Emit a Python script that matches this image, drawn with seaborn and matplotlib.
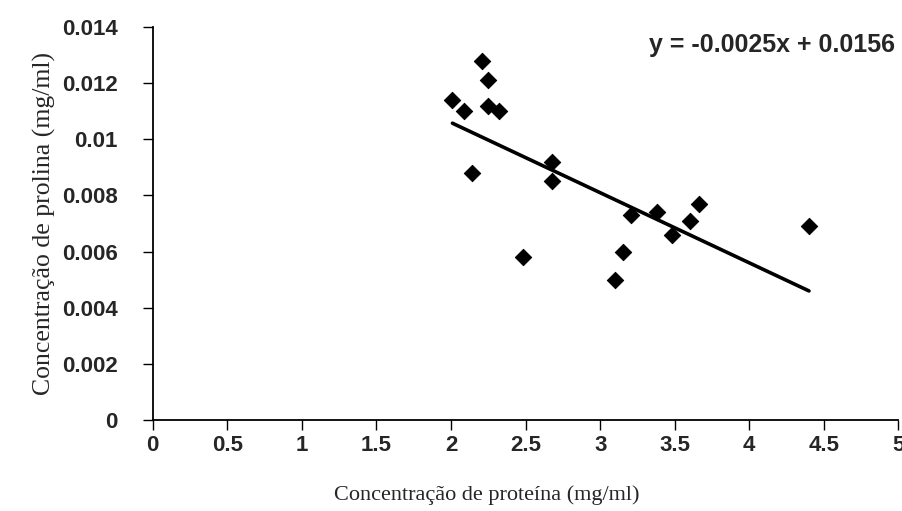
import numpy as np
import pandas as pd
import seaborn as sns
import matplotlib
matplotlib.use('Agg')
import matplotlib.pyplot as plt

# proteína (mg/ml) vs prolina (mg/ml)
proteina = [2.01, 2.09, 2.21, 2.25, 2.25, 2.32, 2.14, 2.48, 2.68, 2.68,
            3.10, 3.15, 3.21, 3.38, 3.48, 3.60, 3.66, 4.40]
prolina = [0.0114, 0.0110, 0.0128, 0.0121, 0.0112, 0.0110, 0.0088, 0.0058, 0.0092, 0.0085,
           0.0050, 0.0060, 0.0073, 0.0074, 0.0066, 0.0071, 0.0077, 0.0069]

slope = -0.0025
intercept = 0.0156
trend_x = [min(proteina), max(proteina)]

x_ticks = [0, 0.5, 1, 1.5, 2, 2.5, 3, 3.5, 4, 4.5, 5]
x_labels = ['0', '0.5', '1', '1.5', '2', '2.5', '3', '3.5', '4', '4.5', '5']
y_ticks = [0, 0.002, 0.004, 0.006, 0.008, 0.01, 0.012, 0.014]
y_labels = ['0', '0.002', '0.004', '0.006', '0.008', '0.01', '0.012', '0.014']

df = pd.DataFrame({'proteina': proteina, 'prolina': prolina})
trend = pd.DataFrame({'x': trend_x,
                      'y': [slope * v + intercept for v in trend_x]})

sns.set_style('white')
plt.rcParams['font.family'] = ['Liberation Sans', 'DejaVu Sans']

fig = plt.figure(figsize=(9.03, 5.11), dpi=100)
ax = fig.add_axes([0.169, 0.178, 0.826, 0.769])

sns.scatterplot(data=df, x='proteina', y='prolina', marker='D', s=70,
                color='black', edgecolor='black', ax=ax)
sns.lineplot(data=trend, x='x', y='y', color='black', linewidth=2.6, ax=ax)

ax.set_xlim(0, 5)
ax.set_ylim(0, 0.014)
ax.set_xticks(x_ticks)
ax.set_xticklabels(x_labels, fontsize=16, fontweight='bold')
ax.set_yticks(y_ticks)
ax.set_yticklabels(y_labels, fontsize=16, fontweight='bold')
ax.tick_params(axis='both', direction='out', length=7, width=1, color='black',
               bottom=True, left=True)
ax.tick_params(axis='y', pad=18)
ax.tick_params(axis='x', pad=4)

for side in ['top', 'right']:
    ax.spines[side].set_visible(False)
for side in ['left', 'bottom']:
    ax.spines[side].set_color('black')
    ax.spines[side].set_linewidth(1.3)

ax.set_xlabel('Concentração de proteína (mg/ml)', family=['Liberation Serif', 'DejaVu Serif'],
              fontsize=16)
ax.xaxis.set_label_coords(0.448, -0.165)
ax.set_ylabel('Concentração de prolina (mg/ml)', family=['Liberation Serif', 'DejaVu Serif'],
              fontsize=18.5)
ax.yaxis.set_label_coords(-0.13, 0.5)

ax.text(0.995, 0.985, 'y = -0.0025x + 0.0156', transform=ax.transAxes,
        ha='right', va='top', fontsize=18, fontweight='bold')

fig.savefig('out.png', dpi=100)
